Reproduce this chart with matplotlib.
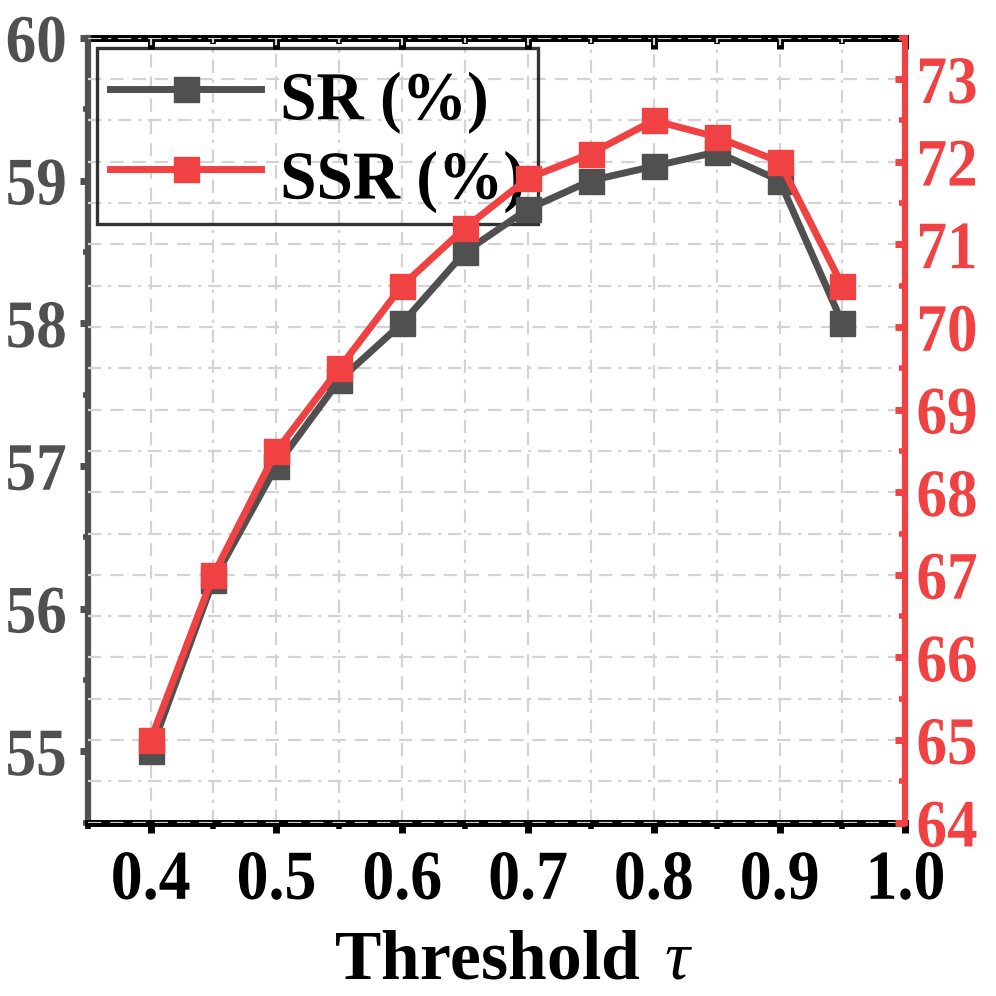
import numpy as np
import matplotlib
matplotlib.use('Agg')
import matplotlib.pyplot as plt
from matplotlib import patheffects as pe
from matplotlib.transforms import Affine2D
from matplotlib.ticker import MultipleLocator

# ── Data ──────────────────────────────────────────────────────────────────────
thresholds = [0.40, 0.45, 0.50, 0.55, 0.60, 0.65, 0.70, 0.75, 0.80, 0.85, 0.90, 0.95]
sr_values  = [55.0, 56.2, 57.0, 57.6, 58.0, 58.5, 58.8, 59.0, 59.1, 59.2, 59.0, 58.0]
ssr_values = [65.0, 67.0, 68.5, 69.5, 70.5, 71.2, 71.8, 72.1, 72.5, 72.3, 72.0, 70.5]
x_ticks     = [0.4, 0.5, 0.6, 0.7, 0.8, 0.9, 1.0]
x_labels    = ['0.4', '0.5', '0.6', '0.7', '0.8', '0.9', '1.0']
left_ticks  = [55, 56, 57, 58, 59, 60]
right_ticks = [64, 65, 66, 67, 68, 69, 70, 71, 72, 73]

# ── Style ─────────────────────────────────────────────────────────────────────
C_GRAY = '#505050'
C_RED  = '#f04242'
C_GRID = '#d3d3d3'
plt.rcParams['font.family'] = ['Liberation Serif', 'DejaVu Serif']
plt.rcParams['font.weight'] = 'bold'
plt.rcParams['mathtext.fontset'] = 'custom'
plt.rcParams['mathtext.it'] = 'Liberation Serif:italic:normal'
plt.rcParams['mathtext.rm'] = 'Liberation Serif:bold'


class VStretch(pe.AbstractPathEffect):
    """Stretch glyphs vertically about a pivot height (font units, em = 100)."""
    def __init__(self, sy, pivot):
        super().__init__()
        self.sy, self.pivot = sy, pivot

    def draw_path(self, renderer, gc, tpath, affine, rgbFace=None):
        x0, y0 = affine.transform((0, self.pivot))
        t = affine + Affine2D().translate(-x0, -y0).scale(1, self.sy).translate(x0, y0)
        renderer.draw_path(gc, tpath, t, rgbFace)


fig = plt.figure(figsize=(9.96, 9.96), dpi=100)
ax1 = fig.add_axes([0.088, 0.174, 0.821, 0.788])
ax2 = ax1.twinx()

ax1.set_xlim(0.35, 1.0)
ax1.set_ylim(54.5, 60)
ax2.set_ylim(64, 73.5)

# vertical grid on ax1 (behind everything)
ax1.set_xticks(x_ticks)
ax1.xaxis.set_minor_locator(MultipleLocator(0.05))
ax1.grid(which='major', axis='x', color=C_GRID, lw=1.6, ls=(0, (6, 4)))
ax1.grid(which='minor', axis='x', color=C_GRID, lw=1.6, ls=(0, (6, 3, 1.5, 3)))

# horizontal grid follows right axis
ax2.set_yticks(right_ticks)
ax2.yaxis.set_minor_locator(MultipleLocator(0.5))
ax2.set_axisbelow(True)
ax2.grid(which='major', axis='y', color=C_GRID, lw=1.6, ls=(0, (6, 4)))
ax2.grid(which='minor', axis='y', color=C_GRID, lw=1.6, ls=(0, (6, 3, 1.5, 3)))

# ── Lines (both on ax2 so the grid sits underneath) ───────────────────────────
l_sr, = ax2.plot(thresholds, sr_values, color=C_GRAY, lw=5, marker='s', ms=18,
                 transform=ax1.transData, label='SR (%)', zorder=3)
l_ssr, = ax2.plot(thresholds, ssr_values, color=C_RED, lw=5, marker='s', ms=18,
                  label='SSR (%)', zorder=4)

# ── Spines ────────────────────────────────────────────────────────────────────
for side in ['left', 'top', 'bottom']:
    ax2.spines[side].set_visible(False)
ax1.spines['right'].set_visible(False)
ax1.spines['left'].set_color(C_GRAY)
ax1.spines['left'].set_linewidth(4.5)
ax1.spines['bottom'].set_color('black')
ax1.spines['bottom'].set_linewidth(5)
ax1.spines['top'].set_visible(False)
ax2.spines['right'].set_color(C_RED)
ax2.spines['right'].set_linewidth(4.5)

# ── Ticks ─────────────────────────────────────────────────────────────────────
ax1.set_yticks(left_ticks)
ax1.yaxis.set_minor_locator(MultipleLocator(0.5))
ax1.tick_params(axis='y', which='major', direction='out', length=6, width=5,
                color=C_GRAY, labelcolor=C_GRAY, labelsize=44, pad=9)
ax1.tick_params(axis='y', which='minor', direction='out', length=3.5, width=4, color=C_GRAY)
ax1.tick_params(axis='x', which='major', direction='out', length=7, width=5,
                color='black', labelsize=46, pad=13)
ax1.tick_params(axis='x', which='minor', direction='out', length=4, width=4, color='black')
ax1.set_xticklabels(x_labels, fontweight='bold')

ax2.tick_params(axis='y', which='major', direction='in', length=7, width=5,
                color=C_RED, labelcolor=C_RED, labelsize=44, pad=8)
ax2.tick_params(axis='y', which='minor', direction='in', length=4, width=4, color=C_RED)

top = ax1.secondary_xaxis('top')
top.set_xticks(x_ticks)
top.xaxis.set_minor_locator(MultipleLocator(0.05))
top.tick_params(which='major', direction='in', length=8, width=5, labeltop=False)
top.tick_params(which='minor', direction='in', length=4.5, width=4)
top.spines['top'].set_linewidth(5)

for lab in ax1.get_yticklabels() + ax2.get_yticklabels():
    lab.set_fontweight('bold')
    lab.set_path_effects([VStretch(1.11, 34)])
for lab in ax1.get_xticklabels():
    lab.set_path_effects([VStretch(1.1, 68)])

ax1.set_xlabel(r'Threshold $\,\tau$', fontsize=50, fontweight='bold', labelpad=15)
ax1.xaxis.label.set_x(0.521)

# ── Legend ────────────────────────────────────────────────────────────────────
leg = ax2.legend(handles=[l_sr, l_ssr], loc='upper left', fontsize=47,
                 frameon=True, fancybox=False, edgecolor='black', facecolor='none',
                 borderaxespad=0.15, borderpad=0.2,
                 handlelength=2.3, handleheight=1.3, handletextpad=0.3,
                 labelspacing=0.12)
leg.get_frame().set_linewidth(2.4)
for t in leg.get_texts():
    t.set_fontweight('bold')
    t.set_path_effects([VStretch(1.05, 34)])
leg.set_zorder(2)

fig.savefig('out.png', dpi=100)
